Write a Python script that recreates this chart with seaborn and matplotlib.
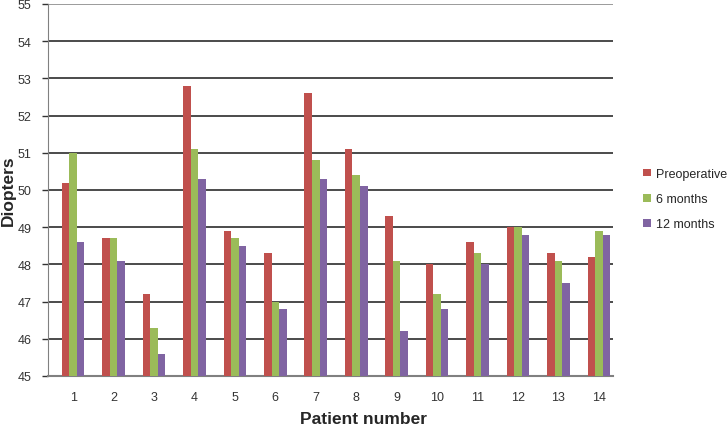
import numpy as np
import pandas as pd
import matplotlib
matplotlib.use("Agg")
import matplotlib.pyplot as plt
import seaborn as sns

patients = [str(i) for i in range(1, 15)]
preop = [50.2, 48.7, 47.2, 52.8, 48.9, 48.3, 52.6, 51.1, 49.3, 48.0, 48.6, 49.0, 48.3, 48.2]
six_months = [51.0, 48.7, 46.3, 51.1, 48.7, 47.0, 50.8, 50.4, 48.1, 47.2, 48.3, 49.0, 48.1, 48.9]
twelve_months = [48.6, 48.1, 45.6, 50.3, 48.5, 46.8, 50.3, 50.1, 46.2, 46.8, 48.0, 48.8, 47.5, 48.8]
series = ["Preoperative", "6 months", "12 months"]
colors = ["#C0504D", "#9BBB59", "#8064A2"]

df = pd.DataFrame({
    "patient": patients * 3,
    "value": preop + six_months + twelve_months,
    "series": np.repeat(series, len(patients)),
})

sns.set_style("white")
plt.rcParams["font.family"] = ["Liberation Sans", "DejaVu Sans"]

fig = plt.figure(figsize=(7.27, 4.27), dpi=100)
ax = fig.add_axes([48 / 727, 50 / 427, 565 / 727, 372 / 427])

# horizontal grid lines behind the bars
for y in range(46, 56):
    ax.axhline(y, color="#808080" if y == 55 else "#1a1a1a", lw=1.1, zorder=1)

sns.barplot(data=df, x="patient", y="value", hue="series", palette=colors,
            width=0.56, ax=ax, saturation=1, linewidth=0, legend=True)
for p in ax.patches:
    p.set_zorder(3)

ax.set_ylim(45, 55)
ax.set_yticks(range(45, 56))
ax.set_xlim(-0.62, 13.35)
ax.tick_params(axis="y", left=True, length=4, width=1, color="#333333",
               labelsize=9, labelcolor="#333333", pad=8)
ax.tick_params(axis="x", bottom=False, labelsize=9, labelcolor="#333333", pad=7)
for s in ["top", "right"]:
    ax.spines[s].set_visible(False)
ax.spines["left"].set_color("#808080")
ax.spines["bottom"].set_color("#808080")
ax.spines["bottom"].set_linewidth(1.5)
ax.set_xlabel("Patient number", fontsize=12.5, fontweight="bold")
ax.set_ylabel("Diopters", fontsize=12.5, fontweight="bold")
ax.xaxis.set_label_coords((364 - 48) / 565, -(420 - 377) / 372)
ax.xaxis.label.set_va("center")
ax.yaxis.set_label_coords(-(48 - 8) / 565, 0.5)
ax.yaxis.label.set_va("center")

ax.get_legend().remove()
handles, labels = ax.get_legend_handles_labels()
fig.legend(handles, labels, loc="center left", bbox_to_anchor=(643 / 727, 1 - 200 / 427),
           frameon=False, fontsize=9, handlelength=0.6, handleheight=0.6,
           handletextpad=0.45, labelspacing=1.05, borderpad=0, borderaxespad=0)

fig.savefig("out.png", dpi=100)
